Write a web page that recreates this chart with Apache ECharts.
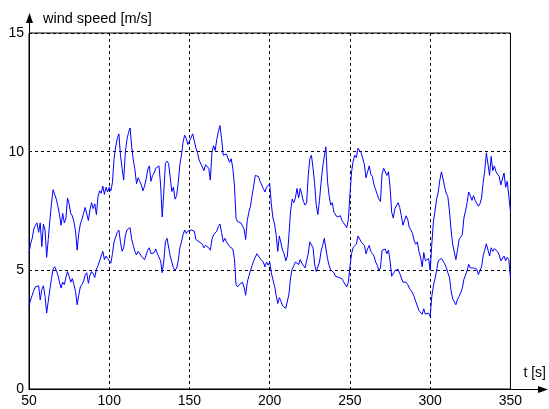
<!DOCTYPE html>
<html>
<head>
<meta charset="utf-8">
<script src="https://cdn.jsdelivr.net/npm/echarts@6.0.0/dist/echarts.min.js"></script>
<style>
  html, body { margin: 0; padding: 0; background: #ffffff; }
  #chart { width: 549px; height: 409px; }
</style>
</head>
<body>
<div id="chart"></div>
<script>
// Sampling of the two wind speed records: one value per second from t = 50 s
const timeStart = 50;
const timeStep = 1;

// Upper record [m/s], t = 50 ... 350 s
const upperSpeed = [
  5.75, 6.1, 6.35, 6.75, 6.9, 7.0, 6.6, 7.0, 6.0, 6.95,
  6.7, 5.55, 6.3, 7.1, 7.8, 8.4, 8.35, 8.0, 7.7, 7.35,
  6.9, 7.4, 7.0, 7.2, 8.05, 7.8, 7.4, 7.3, 7.05, 6.65,
  5.85, 6.55, 6.95, 7.15, 7.4, 7.65, 7.7, 7.1, 7.55, 7.85,
  7.6, 7.8, 7.35, 8.1, 8.35, 8.25, 8.55, 8.2, 8.5, 8.3,
  8.5, 8.35, 8.7, 9.7, 10.2, 10.55, 10.75, 9.85, 9.3, 8.8,
  9.95, 10.5, 10.8, 11.0, 10.2, 9.65, 9.25, 8.65, 8.9, 8.75,
  8.6, 8.35, 8.55, 8.85, 9.25, 9.4, 8.75, 9.0, 9.1, 9.3,
  9.3, 9.4, 8.6, 7.25, 8.3, 9.5, 9.6, 9.5, 8.9, 8.32,
  8.5, 8.0, 8.15, 8.7, 9.45, 9.85, 10.4, 10.7, 10.55, 10.3,
  10.45, 10.5, 10.75, 10.8, 10.15, 9.95, 9.65, 9.7, 9.35, 9.2,
  9.45, 9.5, 9.3, 8.8, 9.95, 10.25, 10.05, 10.5, 10.85, 11.1,
  10.55, 9.85, 9.9, 9.9, 9.95, 9.55, 9.7, 9.3, 8.6, 7.2,
  7.05, 7.0, 7.0, 6.95, 6.75, 6.3, 7.1, 7.45, 7.7, 8.15,
  8.55, 9.0, 9.0, 8.95, 8.75, 8.75, 8.45, 8.3, 8.5, 8.55,
  8.65, 7.8, 7.2, 6.95, 6.5, 5.8, 6.45, 6.15, 5.85, 5.7,
  5.4, 5.6, 6.5, 7.5, 8.0, 7.85, 8.05, 8.45, 8.05, 8.45,
  8.2, 7.9, 7.75, 7.85, 9.0, 9.7, 9.85, 9.3, 8.65, 7.75,
  7.35, 7.95, 8.7, 9.35, 9.8, 10.2, 8.75, 8.15, 7.75, 7.85,
  7.45, 7.5, 7.25, 7.2, 7.3, 7.1, 7.0, 7.0, 6.8, 7.15,
  8.2, 9.15, 9.6, 9.85, 9.75, 10.15, 10.2, 9.95, 9.95, 9.45,
  8.9, 8.9, 9.4, 9.05, 8.95, 8.6, 8.4, 8.2, 8.0, 7.9,
  9.05, 9.3, 9.25, 9.0, 9.15, 8.5, 7.45, 7.2, 7.6, 7.6,
  7.85, 7.65, 7.3, 6.9, 6.95, 7.3, 7.15, 6.8, 6.7, 6.55,
  6.25, 6.1, 6.2, 5.8, 5.55, 5.15, 5.75, 5.4, 5.4, 5.5,
  5.0, 6.1, 7.05, 7.5, 8.0, 8.3, 8.8, 9.15, 8.85, 8.5,
  8.25, 8.1, 7.5, 6.7, 6.1, 6.05, 5.45, 5.85, 6.3, 6.4,
  6.5, 7.2, 7.5, 7.85, 8.3, 8.15, 7.95, 8.15, 7.95, 8.0,
  7.7, 7.8, 8.05, 8.7, 9.2, 9.95, 9.9, 9.0, 9.8, 9.2,
  9.4, 9.15, 9.1, 8.95, 8.6, 8.6, 9.1, 8.5, 8.75, 8.7,
  7.5
];

// Lower record [m/s], t = 50 ... 350 s
const lowerSpeed = [
  3.5, 3.75, 3.95, 4.15, 4.3, 4.35, 4.35, 3.75, 4.2, 4.35,
  3.9, 3.2, 3.7, 4.2, 4.65, 5.05, 5.15, 5.0, 4.8, 4.5,
  4.25, 4.5, 4.4, 4.7, 4.95, 4.75, 4.5, 4.65, 4.4, 4.1,
  3.55, 3.95, 4.3, 4.4, 4.55, 4.8, 4.9, 4.45, 4.8, 4.95,
  4.85, 4.7, 5.05, 5.2, 5.4, 5.45, 5.8, 5.45, 5.6, 5.5,
  5.4, 5.3, 5.7, 6.2, 6.4, 6.6, 6.7, 6.2, 5.8, 5.95,
  6.45, 6.7, 6.75, 6.8, 6.3, 6.05, 5.8, 5.65, 5.8, 5.72,
  5.6, 5.65, 5.45, 5.5, 5.85, 5.95, 5.7, 5.65, 5.75, 5.9,
  5.7, 5.75, 5.4, 4.9, 5.4, 6.2, 6.35, 6.3, 5.6, 5.35,
  5.1, 5.0, 5.1, 5.4, 5.95, 6.2, 6.5, 6.7, 6.55, 6.65,
  6.6, 6.7, 6.75, 6.65, 6.3, 6.3, 6.2, 6.15, 6.1, 5.95,
  6.05, 6.0, 5.95, 5.85, 6.3, 6.5, 6.45, 6.65, 6.85, 6.95,
  6.6, 6.2, 6.35, 6.2, 6.25, 6.0, 6.05, 5.9, 5.5, 4.4,
  4.3, 4.4, 4.45, 4.5, 4.3, 3.95, 4.5, 4.75, 5.0, 5.2,
  5.4, 5.55, 5.7, 5.65, 5.5, 5.5, 5.35, 5.15, 5.35, 5.22,
  5.35, 4.9, 4.6, 4.35, 3.95, 3.6, 3.85, 3.7, 3.5, 3.45,
  3.4, 3.45, 4.0, 4.7, 5.05, 5.2, 5.35, 5.4, 5.25, 5.45,
  5.3, 5.2, 5.1, 5.15, 5.7, 6.2, 6.28, 5.95, 5.25, 4.95,
  5.0, 5.35, 5.8, 6.05, 6.35, 6.4, 5.5, 5.2, 5.02, 4.95,
  4.9, 4.75, 4.8, 4.7, 4.7, 4.65, 4.52, 4.55, 4.3, 4.5,
  5.15, 5.7, 5.97, 6.03, 6.1, 6.45, 6.45, 6.2, 6.2, 6.05,
  5.7, 5.9, 6.05, 5.8, 5.7, 5.6, 5.35, 5.22, 5.0, 5.1,
  5.85, 5.9, 5.9, 5.7, 5.85, 5.4, 4.75, 4.75, 4.98, 4.9,
  5.05, 4.87, 4.68, 4.5, 4.55, 4.5, 4.4, 4.25, 4.2, 4.05,
  3.9, 3.68, 3.5, 3.3, 3.3, 3.15, 3.38, 3.15, 3.2, 3.2,
  3.05, 3.9, 4.35, 4.65, 5.0, 5.4, 5.4, 5.5, 5.42, 5.28,
  5.12, 4.9, 4.7, 4.15, 3.8, 3.8, 3.55, 3.78, 3.9, 4.05,
  4.25, 4.62, 4.8, 5.0, 5.25, 5.1, 5.05, 5.1, 5.02, 5.05,
  4.82, 4.98, 5.15, 5.62, 5.85, 6.12, 6.15, 5.6, 5.95, 5.8,
  5.92, 5.86, 5.78, 5.65, 5.4, 5.45, 5.6, 5.4, 5.55, 5.45,
  4.7
];

// Axis ticks
const xTicks = [50, 100, 150, 200, 250, 300, 350];
const yTicks = [0, 5, 10, 15];

const xAxisName = 't [s]';
const yAxisName = 'wind speed [m/s]';

const withTime = values => values.map((v, i) => [timeStart + i * timeStep, v]);

const font = '"Liberation Sans", Arial, sans-serif';
const black = '#000000';
const traceColor = '#0000ff';
const gridDash = [3, 3];

const traceSeries = values => ({
  type: 'line',
  data: withTime(values),
  symbol: 'none',
  showSymbol: false,
  silent: true,
  lineStyle: { color: traceColor, width: 1 }
});

const chart = echarts.init(document.getElementById('chart'), null, { renderer: 'canvas' });

chart.setOption({
  animation: false,
  backgroundColor: '#ffffff',
  grid: { left: 29, right: 38, top: 33, bottom: 20, show: true, borderColor: black, borderWidth: 1, backgroundColor: 'transparent' },
  xAxis: {
    type: 'value',
    min: xTicks[0],
    max: xTicks[xTicks.length - 1],
    interval: xTicks[1] - xTicks[0],
    name: xAxisName,
    nameLocation: 'end',
    nameGap: 13,
    nameTextStyle: { color: black, fontSize: 14, fontFamily: font, align: 'left', verticalAlign: 'bottom', padding: [0, 0, 9, 0] },
    axisLine: { show: true, lineStyle: { color: black, width: 1 } },
    axisTick: { show: false },
    axisLabel: { color: black, fontSize: 14, fontFamily: font, margin: 5 },
    splitLine: { show: true, lineStyle: { color: black, width: 1, type: gridDash } }
  },
  yAxis: {
    type: 'value',
    min: yTicks[0],
    max: yTicks[yTicks.length - 1],
    interval: yTicks[1] - yTicks[0],
    name: yAxisName,
    nameLocation: 'end',
    nameGap: 14,
    nameTextStyle: { color: black, fontSize: 14.5, fontFamily: font, align: 'left', verticalAlign: 'middle', padding: [0, 0, 0, 14] },
    axisLine: { show: true, lineStyle: { color: black, width: 1 } },
    axisTick: { show: false },
    axisLabel: { color: black, fontSize: 14, fontFamily: font, margin: 5 },
    splitLine: { show: true, lineStyle: { color: black, width: 1, type: gridDash } }
  },
  series: [
    traceSeries(upperSpeed),
    traceSeries(lowerSpeed)
  ]
});

// Axis lines run on past the plotting box and end in filled arrow heads
const origin = chart.convertToPixel({ gridIndex: 0 }, [xTicks[0], yTicks[0]]);
const corner = chart.convertToPixel({ gridIndex: 0 }, [xTicks[xTicks.length - 1], yTicks[yTicks.length - 1]]);
const ax = Math.round(origin[0]) + 0.5;
const ay = Math.round(origin[1]) + 0.5;
const xTip = chart.getWidth() - 1;
const yTip = corner[1] - 20;
const headLen = 10, headHalf = 3.5;

chart.setOption({
  graphic: [
    { type: 'line', silent: true, shape: { x1: corner[0], y1: ay, x2: xTip - headLen + 1, y2: ay }, style: { stroke: black, lineWidth: 1 } },
    { type: 'polygon', silent: true, shape: { points: [[xTip, ay], [xTip - headLen, ay - headHalf], [xTip - headLen, ay + headHalf]] }, style: { fill: black } },
    { type: 'line', silent: true, shape: { x1: ax, y1: corner[1], x2: ax, y2: yTip + headLen - 1 }, style: { stroke: black, lineWidth: 1 } },
    { type: 'polygon', silent: true, shape: { points: [[ax, yTip], [ax - headHalf, yTip + headLen], [ax + headHalf, yTip + headLen]] }, style: { fill: black } }
  ]
});
</script>
</body>
</html>
